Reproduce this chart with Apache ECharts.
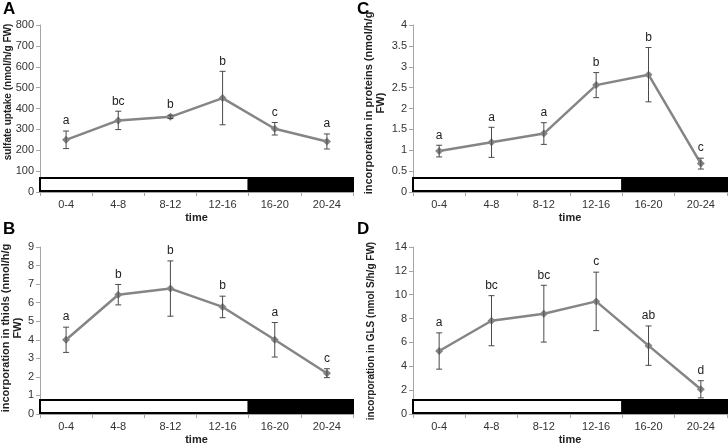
<!DOCTYPE html>
<html>
<head>
<meta charset="utf-8">
<script src="https://cdn.jsdelivr.net/npm/echarts@6/dist/echarts.min.js"></script>
<style>
html,body{margin:0;padding:0;background:#fff;}
#chart{width:728px;height:446px;}
</style>
</head>
<body>
<div id="chart"></div>
<script>
// ---- data ----
const categories = ['0-4', '4-8', '8-12', '12-16', '16-20', '20-24'];

const sulfateMean = [250, 343, 360, 450, 303, 242];
const sulfateErr = [42, 44, 8, 128, 30, 36];
const sulfateLetters = ['a', 'bc', 'b', 'b', 'c', 'a'];

const proteinsMean = [0.98, 1.19, 1.40, 2.56, 2.81, 0.68];
const proteinsErr = [0.14, 0.36, 0.26, 0.30, 0.65, 0.13];
const proteinsLetters = ['a', 'a', 'a', 'b', 'b', 'c'];

const thiolsMean = [4.0, 6.43, 6.76, 5.77, 4.0, 2.2];
const thiolsErr = [0.68, 0.55, 1.49, 0.58, 0.93, 0.24];
const thiolsLetters = ['a', 'b', 'b', 'b', 'a', 'c'];

const glsMean = [5.28, 7.82, 8.41, 9.44, 5.73, 2.07];
const glsErr = [1.52, 2.1, 2.38, 2.45, 1.65, 0.72];
const glsLetters = ['a', 'bc', 'bc', 'c', 'ab', 'd'];

// photoperiod (hours): light then dark
const lightPeriod = [0, 16];
const darkPeriod = [16, 24];

// ---- layout ----
const FONT = '"Liberation Sans", Arial, Helvetica, sans-serif';
const panels = [
  {letter: 'A', mean: sulfateMean, err: sulfateErr, letters: sulfateLetters, min: 0, max: 800, interval: 100,
   grid: {left: 40, top: 25, width: 313, height: 167},
   name: 'sulfate uptake (nmol/h/g FW)', nameX: 8, nameY: 92, nameSize: 10, lx: 3, ly: 1},
  {letter: 'C', mean: proteinsMean, err: proteinsErr, letters: proteinsLetters, min: 0, max: 4, interval: 0.5,
   grid: {left: 413, top: 25, width: 314, height: 167},
   name: 'incorporation in proteins (nmol/h/g\nFW)', nameX: 375, nameY: 103, nameSize: 11, lx: 357, ly: 1},
  {letter: 'B', mean: thiolsMean, err: thiolsErr, letters: thiolsLetters, min: 0, max: 9, interval: 1,
   grid: {left: 40, top: 247, width: 313, height: 167.5},
   name: 'incorporation in thiols (nmol/h/g\nFW)', nameX: 12, nameY: 328, nameSize: 11, lx: 3, ly: 221},
  {letter: 'D', mean: glsMean, err: glsErr, letters: glsLetters, min: 0, max: 14, interval: 2,
   grid: {left: 413, top: 247, width: 314, height: 167.5},
   name: 'incorporation in GLS (nmol S/h/g FW)', nameX: 371, nameY: 331, nameSize: 10, lx: 357, ly: 221}
];

const grids = [], xAxes = [], yAxes = [], series = [], graphics = [];
const axisGray = '#a6a6a6';

panels.forEach((p, k) => {
  grids.push(Object.assign({containLabel: false}, p.grid));
  // category axis
  xAxes.push({
    type: 'category', gridIndex: k, data: categories, boundaryGap: true,
    axisLine: {show: true, lineStyle: {color: axisGray, width: 1}},
    axisTick: {show: true, length: 4, lineStyle: {color: axisGray}},
    axisLabel: {color: '#333', fontSize: 11, fontFamily: FONT, margin: 7},
    name: 'time', nameLocation: 'middle', nameGap: 20,
    nameTextStyle: {fontWeight: 'bold', fontSize: 11, fontFamily: FONT, color: '#222'}
  });
  // hidden hour axis for photoperiod bar
  xAxes.push({type: 'value', gridIndex: k, min: 0, max: 24, show: false});
  yAxes.push({
    type: 'value', gridIndex: k, min: p.min, max: p.max, interval: p.interval,
    splitLine: {show: false},
    axisLine: {show: true, lineStyle: {color: axisGray, width: 1}},
    axisTick: {show: true, length: 4, lineStyle: {color: axisGray}},
    axisLabel: {color: '#333', fontSize: 11, fontFamily: FONT, margin: 6}
  });

  // photoperiod bar
  series.push({
    type: 'custom', xAxisIndex: 2 * k + 1, yAxisIndex: k, z: 5, silent: true,
    data: [[lightPeriod[0], lightPeriod[1], 0, 0], [darkPeriod[0], darkPeriod[1], 0, 1]],
    encode: {x: [0, 1], y: 2},
    renderItem: function (params, api) {
      const a = api.coord([api.value(0), 0]);
      const b = api.coord([api.value(1), 0]);
      const h = 13;
      return {
        type: 'rect',
        shape: {x: a[0], y: a[1] - h - 1, width: b[0] - a[0], height: h},
        style: {fill: api.value(3) === 0 ? '#ffffff' : '#000000', stroke: '#000', lineWidth: 2}
      };
    }
  });

  // mean line
  series.push({
    type: 'line', xAxisIndex: 2 * k, yAxisIndex: k, z: 6, data: p.mean,
    symbol: 'diamond', symbolSize: 8, showSymbol: true,
    lineStyle: {color: '#858585', width: 2.5},
    itemStyle: {color: '#858585'},
    animation: false
  });

  // error bars + significance letters
  const letters = p.letters;
  series.push({
    type: 'custom', xAxisIndex: 2 * k, yAxisIndex: k, z: 7, silent: true,
    data: p.mean.map((m, i) => [i, m, p.err[i]]),
    encode: {x: 0, y: 1},
    renderItem: function (params, api) {
      const i = api.value(0), m = api.value(1), e = api.value(2);
      const t = api.coord([i, m + e]);
      const b = api.coord([i, m - e]);
      const cw = 3;
      const st = {stroke: '#4a4a4a', lineWidth: 1};
      return {
        type: 'group',
        children: [
          {type: 'line', shape: {x1: t[0], y1: t[1], x2: b[0], y2: b[1]}, style: st},
          {type: 'line', shape: {x1: t[0] - cw, y1: t[1], x2: t[0] + cw, y2: t[1]}, style: st},
          {type: 'line', shape: {x1: b[0] - cw, y1: b[1], x2: b[0] + cw, y2: b[1]}, style: st},
          {type: 'text', x: t[0], y: t[1] - 4,
           style: {text: letters[params.dataIndex], textAlign: 'center', textVerticalAlign: 'bottom',
                   fontSize: 12, fontFamily: FONT, fill: '#222'}}
        ]
      };
    }
  });

  // panel letter
  graphics.push({type: 'text', left: p.lx, top: p.ly,
    style: {text: p.letter, fontSize: 17, fontWeight: 'bold', fontFamily: FONT, fill: '#000'}});
  // y-axis title (rotated)
  graphics.push({type: 'text', x: p.nameX, y: p.nameY, rotation: Math.PI / 2,
    style: {text: p.name, textAlign: 'center', textVerticalAlign: 'middle',
            fontSize: p.nameSize, fontWeight: 'bold', fontFamily: FONT, fill: '#222', lineHeight: p.nameSize + 1}});
});

const chart = echarts.init(document.getElementById('chart'), null, {renderer: 'canvas'});
chart.setOption({
  backgroundColor: '#ffffff',
  animation: false,
  grid: grids,
  xAxis: xAxes,
  yAxis: yAxes,
  series: series,
  graphic: graphics
});
</script>
</body>
</html>
